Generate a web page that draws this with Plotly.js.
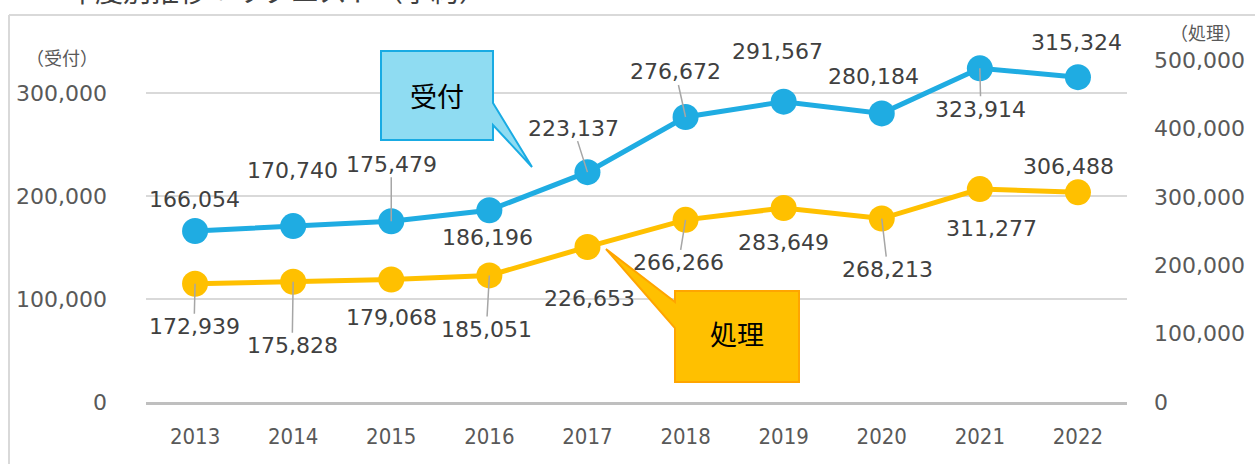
<!DOCTYPE html>
<html><head><meta charset="utf-8">
<script src="https://cdn.plot.ly/plotly-3.0.1.min.js"></script>
<style>html,body{margin:0;padding:0;background:#fff}#chart{width:1255px;height:464px}</style>
</head><body><div id="chart"></div>
<script>
// ---- data ----
const years = ["2013","2014","2015","2016","2017","2018","2019","2020","2021","2022"];
const uketsuke = [166054,170740,175479,186196,223137,276672,291567,280184,323914,315324];
const shori = [172939,175828,179068,185051,226653,266266,283649,268213,311277,306488];
const leftTicks = [0,100000,200000,300000];
const rightTicks = [0,100000,200000,300000,400000,500000];

// label offsets (pixels) and leader flags
const uOff = [[-1,-31,0],[-1,-56,0],[0,-57,1],[-2,27,0],[-14,-44,1],[-10,-45,1],[-6,-50,0],[-8,-37,0],[1,41,1],[-1,-35,0]];
const sOff = [[-1,43,1],[-1,64,1],[0,38,0],[-3,54,1],[2,52,0],[-7,43,1],[0,35,0],[6,51,1],[12,39,0],[-9,-26,0]];

const L=146, R=1127, T=60, B=402;
const px = x => (x-L)/(R-L);
const py = y => (B-y)/(B-T);
const pathPx = pts => pts.map((p,i)=>(i?'L':'M')+px(p[0]).toFixed(5)+','+py(p[1]).toFixed(5)).join(' ')+' Z';

const fmt = v => v.toLocaleString('en-US');
const numFont = {family:'DejaVu Sans, sans-serif', size:22, color:'#404040'};

const annotations = [];
years.forEach((yr,i)=>{
  const a=uOff[i];
  annotations.push({x:i, y:uketsuke[i], xref:'x', yref:'y', text:fmt(uketsuke[i]), font:numFont,
    showarrow:true, ax:a[0], ay:a[1], arrowhead:0, arrowwidth:1.5, standoff:0,
    arrowcolor:a[2]?'#A6A6A6':'rgba(0,0,0,0)', borderpad:0});
  const b=sOff[i];
  annotations.push({x:i, y:shori[i], xref:'x', yref:'y2', text:fmt(shori[i]), font:numFont,
    showarrow:true, ax:b[0], ay:b[1], arrowhead:0, arrowwidth:1.5, standoff:0,
    arrowcolor:b[2]?'#A6A6A6':'rgba(0,0,0,0)', borderpad:0});
});
annotations.push({xref:'paper', yref:'paper', x:px(65), y:py(12), xanchor:'left', yanchor:'bottom',
  text:'年度別推移：リクエスト（予約）', showarrow:false,
  font:{family:'Noto Sans CJK JP, sans-serif', size:28, color:'#404040'}});
annotations.push({xref:'paper', yref:'paper', x:px(62), y:py(57), xanchor:'center', yanchor:'middle',
  text:'（受付）', showarrow:false, font:{family:'Noto Sans CJK JP, sans-serif', size:18, color:'#595959'}});
annotations.push({xref:'paper', yref:'paper', x:px(1206), y:py(32), xanchor:'center', yanchor:'middle',
  text:'（処理）', showarrow:false, font:{family:'Noto Sans CJK JP, sans-serif', size:18, color:'#595959'}});
annotations.push({xref:'paper', yref:'paper', x:px(437), y:py(95), xanchor:'center', yanchor:'middle',
  text:'受付', showarrow:false, font:{family:'Noto Sans CJK JP, sans-serif', size:27, color:'#000'}});
annotations.push({xref:'paper', yref:'paper', x:px(737), y:py(333), xanchor:'center', yanchor:'middle',
  text:'処理', showarrow:false, font:{family:'Noto Sans CJK JP, sans-serif', size:27, color:'#000'}});

const shapes = [
  {type:'line', xref:'paper', yref:'paper', x0:px(9), x1:px(9), y0:py(15), y1:py(470), line:{color:'#D9D9D9', width:2}},
  {type:'line', xref:'paper', yref:'paper', x0:px(9), x1:px(1260), y0:py(15), y1:py(15), line:{color:'#D9D9D9', width:2}},
  {type:'path', xref:'paper', yref:'paper', path:pathPx([[381,51],[493,51],[493,103],[532,167],[493,125],[493,140],[381,140]]),
    fillcolor:'#8FDCF2', line:{color:'#19ABE3', width:2}},
  {type:'path', xref:'paper', yref:'paper', path:pathPx([[675,291],[799,291],[799,382],[675,382],[675,328],[606,249],[675,302]]),
    fillcolor:'#FFC000', line:{color:'#FFA500', width:2}}
];

const traces = [
  {x:years, y:uketsuke, type:'scatter', mode:'lines+markers', name:'受付', yaxis:'y', cliponaxis:false,
   line:{color:'#1FACE2', width:5}, marker:{color:'#1FACE2', size:26}, hoverinfo:'skip'},
  {x:years, y:shori, type:'scatter', mode:'lines+markers', name:'処理', yaxis:'y2', cliponaxis:false,
   line:{color:'#FFC000', width:5}, marker:{color:'#FFC000', size:26}, hoverinfo:'skip'}
];

const layout = {
  width:1255, height:464, showlegend:false,
  margin:{l:L, r:1255-R, t:T, b:464-B, pad:0},
  paper_bgcolor:'#fff', plot_bgcolor:'#fff',
  xaxis:{type:'category', range:[-0.5,9.5], showgrid:false, zeroline:false,
    showline:true, linecolor:'#BFBFBF', linewidth:3, ticks:'', ticklabelstandoff:13,
    tickfont:{family:'Liberation Sans Narrow, DejaVu Sans Condensed, sans-serif', size:22, color:'#595959'}},
  yaxis:{range:[0,332000], tickvals:leftTicks, ticktext:leftTicks.map(fmt), showgrid:true,
    gridcolor:'#D9D9D9', gridwidth:1.5, zeroline:false, showline:false, ticks:'', ticklabelstandoff:38,
    tickfont:{family:'DejaVu Sans, sans-serif', size:22, color:'#595959'}},
  yaxis2:{range:[0,500000], tickvals:rightTicks, ticktext:rightTicks.map(fmt), overlaying:'y', side:'right',
    showgrid:false, zeroline:false, showline:false, ticks:'', ticklabelstandoff:26,
    tickfont:{family:'DejaVu Sans, sans-serif', size:22, color:'#595959'}},
  annotations, shapes
};
Plotly.newPlot('chart', traces, layout, {staticPlot:true, displayModeBar:false});
</script></body></html>
